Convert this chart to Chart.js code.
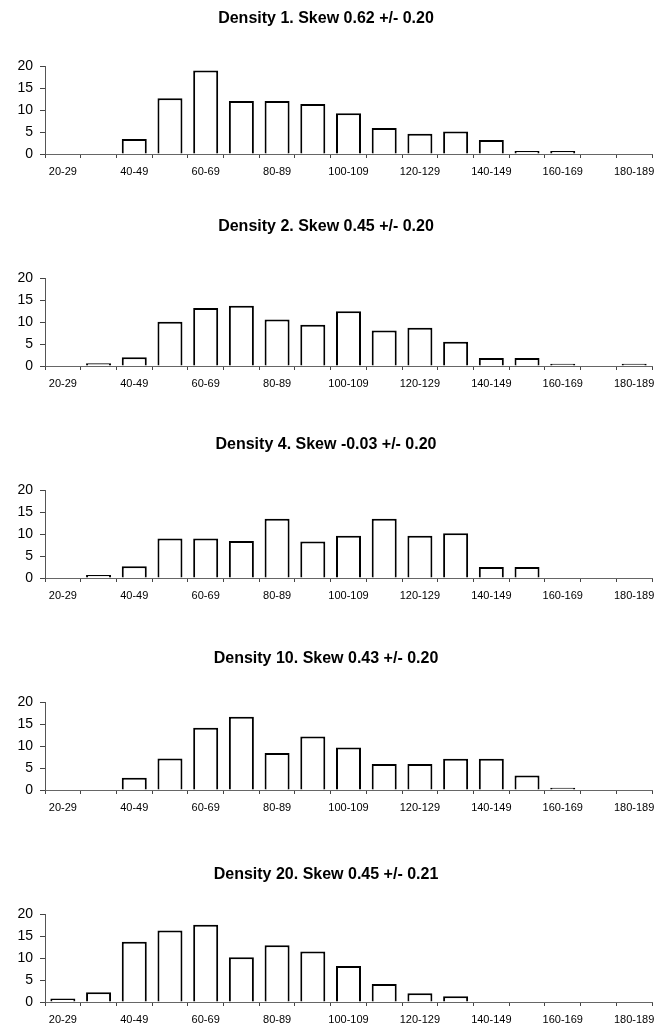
<!DOCTYPE html>
<html>
<head>
<meta charset="utf-8">
<script src="https://cdn.jsdelivr.net/npm/chart.js@4"></script>
<style>
    body { margin: 0; background: #fff; overflow: hidden; }
    .bloque { position: absolute; left: 0; width: 667px; height: 212px; }
</style>
</head>
<body>
<div class="bloque" style="top:0px"><canvas id="chart1" width="667" height="212"></canvas></div>
<div class="bloque" style="top:212px"><canvas id="chart2" width="667" height="212"></canvas></div>
<div class="bloque" style="top:424px"><canvas id="chart3" width="667" height="212"></canvas></div>
<div class="bloque" style="top:636px"><canvas id="chart4" width="667" height="212"></canvas></div>
<div class="bloque" style="top:848px"><canvas id="chart5" width="667" height="212"></canvas></div>
<script>
const categories = ['20-29', '30-39', '40-49', '50-59', '60-69', '70-79', '80-89', '90-99', '100-109',
    '110-119', '120-129', '130-139', '140-149', '150-159', '160-169', '170-179', '180-189'];

const density1 = [0, 0, 3.4, 12.7, 19.0, 12.1, 12.1, 11.4, 9.3, 5.9, 4.6, 5.1, 3.2, 0.7, 0.7, 0, 0];
const density2 = [0, 0.6, 2.0, 10.1, 13.2, 13.7, 10.6, 9.4, 12.5, 8.1, 8.7, 5.5, 1.8, 1.8, 0.5, 0, 0.5];
const density4 = [0, 0.7, 2.7, 9.0, 9.0, 8.4, 13.5, 8.3, 9.6, 13.5, 9.6, 10.2, 2.5, 2.5, 0, 0, 0];
const density10 = [0, 0, 2.8, 7.2, 14.2, 16.7, 8.4, 12.2, 9.7, 5.9, 5.9, 7.1, 7.1, 3.3, 0.5, 0, 0];
const density20 = [0.8, 2.2, 13.7, 16.3, 17.6, 10.2, 12.9, 11.5, 8.2, 4.1, 2.0, 1.3, 0, 0, 0, 0, 0];

const yTicks = [0, 5, 10, 15, 20];

const titles = [
    'Density 1. Skew 0.62 +/- 0.20',
    'Density 2. Skew 0.45 +/- 0.20',
    'Density 4. Skew -0.03 +/- 0.20',
    'Density 10. Skew 0.43 +/- 0.20',
    'Density 20. Skew 0.45 +/- 0.21'
];

// desplazamiento vertical del titulo en cada bloque (px)
const titleShift = [1, -3, 3, 5, 9];

const fuente = 'Liberation Sans, Arial, sans-serif';

// one histogram per canvas
function crearHistograma(canvasId, titulo, valores, shift) {
    const ctx = document.getElementById(canvasId).getContext('2d');
    return new Chart(ctx, {
        type: 'bar',
        data: {
            labels: categories,
            datasets: [{
                data: valores,
                backgroundColor: '#ffffff',
                borderColor: '#000000',
                borderWidth: 2,
                barPercentage: 0.7,
                categoryPercentage: 1
            }]
        },
        options: {
            responsive: false,
            animation: false,
            layout: { padding: { left: 0, right: 15, top: 0, bottom: 0 } },
            plugins: {
                legend: { display: false },
                tooltip: { enabled: false },
                title: {
                    display: true,
                    text: titulo,
                    color: '#000',
                    font: { family: fuente, size: 16, weight: 'bold' },
                    padding: { top: 8 + shift, bottom: 39 - shift }
                }
            },
            scales: {
                x: {
                    grid: { offset: true, drawOnChartArea: false, tickLength: 4, color: '#444' },
                    border: { color: '#666' },
                    ticks: {
                        autoSkip: false,
                        maxRotation: 0,
                        padding: 7,
                        color: '#000',
                        font: { family: fuente, size: 11 },
                        callback: (value, index) => index % 2 === 0 ? categories[index] : ''
                    },
                    afterFit: scale => { scale.height = 58; }
                },
                y: {
                    min: yTicks[0],
                    max: yTicks[yTicks.length - 1],
                    afterBuildTicks: scale => { scale.ticks = yTicks.map(v => ({ value: v })); },
                    grid: { drawOnChartArea: false, tickLength: 5, color: '#444' },
                    border: { color: '#555' },
                    ticks: { padding: 7, color: '#000', font: { family: fuente, size: 14 } },
                    afterFit: scale => { scale.width = 45; }
                }
            }
        }
    });
}

crearHistograma('chart1', titles[0], density1, titleShift[0]);
crearHistograma('chart2', titles[1], density2, titleShift[1]);
crearHistograma('chart3', titles[2], density4, titleShift[2]);
crearHistograma('chart4', titles[3], density10, titleShift[3]);
crearHistograma('chart5', titles[4], density20, titleShift[4]);
</script>
</body>
</html>
